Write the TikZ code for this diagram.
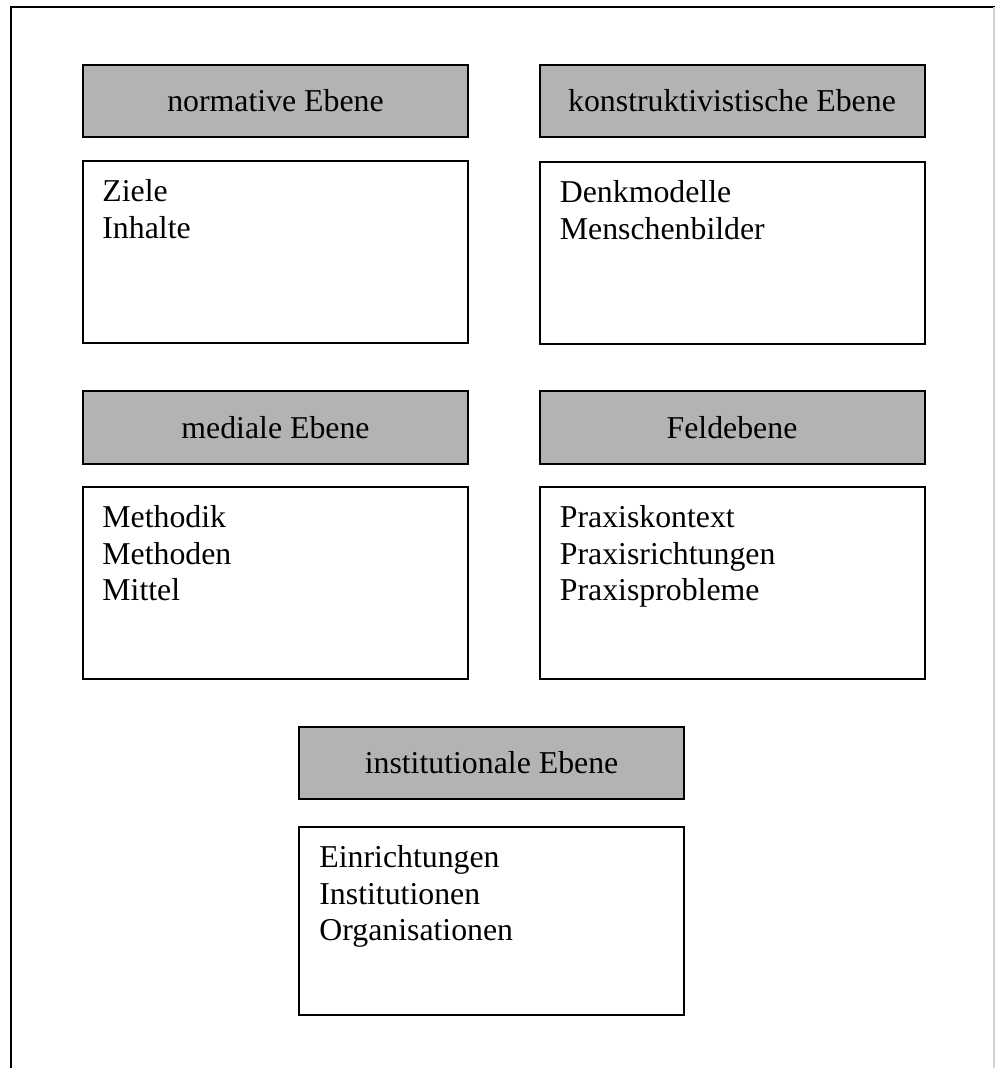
\documentclass[tikz,border=0pt]{standalone}
\usepackage{fontspec}
\setmainfont{Liberation Serif}
\usetikzlibrary{positioning}
\definecolor{hdrgray}{RGB}{179,179,179}
\definecolor{ink}{RGB}{0,0,0}
\tikzset{
  hdr/.style={draw=ink,fill=hdrgray,line width=1pt,minimum width=192.5pt,
    minimum height=36pt,inner sep=0pt,text=ink},
  cnt/.style={draw=ink,fill=white,line width=1pt,minimum width=192.5pt,
    minimum height=#1,inner sep=0pt},
  cnt/.default=92pt,
  lst/.style={align=left,inner sep=0pt,text=ink},
  frame/.style={line width=1pt,draw=ink},
}

\begin{document}
\begin{tikzpicture}[x=0.5pt,y=-0.5pt,font=\fontsize{15.9}{18.3}\selectfont]
    \useasboundingbox (0,0) rectangle (995,1068);
    \draw[frame] (11,1068) -- (11,7) -- (995,7);
    \draw[draw=gray!35,line width=0.6pt] (994,7) -- (994,1068);

    \node[hdr] (hnorm) at (275.5,101) {normative Ebene};
    \node[hdr] (hkons) at (732,101)   {konstruktivistische Ebene};
    \node[cnt=91pt] (cnorm) at (275.5,252) {};
    \node[cnt=91pt] (ckons) at (732,253)   {};
    \node[lst,below right=9.5pt and 10pt of cnorm.north west] (lnorm) {Ziele\\Inhalte};
    \node[lst,below right=9.5pt and 10.5pt of ckons.north west] (lkons) {Denkmodelle\\Menschenbilder};

    \node[hdr] (hmed)  at (275.5,427.5) {mediale Ebene};
    \node[hdr] (hfeld) at (732,427.5)   {Feldebene};
    \node[cnt=96pt] (cmed)  at (275.5,583) {};
    \node[cnt=96pt] (cfeld) at (732,583)   {};
    \node[lst,below right=9.5pt and 10pt of cmed.north west] (lmed) {Methodik\\Methoden\\Mittel};
    \node[lst,below right=9.5pt and 10.5pt of cfeld.north west] (lfeld) {Praxiskontext\\Praxisrichtungen\\Praxisprobleme};

    \node[hdr] (hinst) at (491.5,763) {institutionale Ebene};
    \node[cnt=94pt] (cinst) at (491.5,921) {};
    \node[lst,below right=9.5pt and 10.5pt of cinst.north west] (linst) {Einrichtungen\\Institutionen\\Organisationen};
  \end{tikzpicture}
\end{document}
